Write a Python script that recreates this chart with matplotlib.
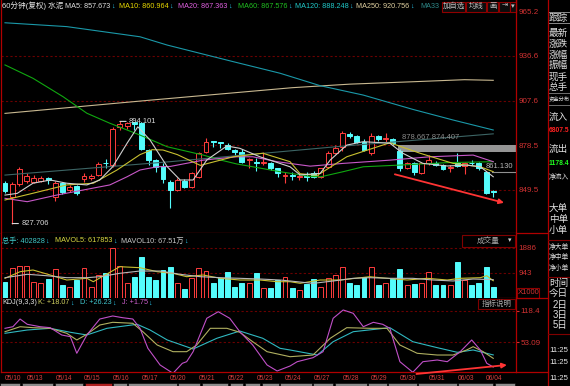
import numpy as np
import matplotlib
matplotlib.use('Agg')
import matplotlib.pyplot as plt
from matplotlib.patches import Rectangle
from matplotlib.lines import Line2D
from matplotlib.transforms import blended_transform_factory

plt.rcParams['font.family'] = ['Liberation Sans', 'Noto Sans CJK SC', 'DejaVu Sans']

# ---------------- data ----------------
dates = ['05/10', '05/13', '05/14', '05/15', '05/16', '05/17', '05/20', '05/21', '05/22',
         '05/23', '05/24', '05/27', '05/28', '05/29', '05/30', '05/31', '06/03', '06/04']
bars_per_day = [3] + [4] * 16 + [2]

opens = [854.0, 844.8, 853.4, 855.5, 854.9, 855.5, 857.1, 844.8, 854.3, 849.5,
         852.1, 856.7, 857.1, 859.3, 867.3, 865.7, 890.6, 891.2, 893.6, 892.8,
         875.2, 868.8, 865.1, 854.9, 849.5, 855.3, 851.6, 858.0, 874.4, 881.2,
         880.6, 878.7, 875.5, 874.4, 868.8, 868.0, 866.9, 867.3, 863.6, 858.6,
         859.3, 858.1, 858.6, 860.8, 858.1, 864.6, 873.3, 877.6, 885.6, 884.6,
         880.9, 873.3, 884.4, 882.6, 882.4, 875.0, 863.6, 866.9, 860.8, 866.9,
         867.3, 865.8, 863.8, 867.3, 865.1, 867.3, 866.9, 861.4, 848.6]
highs = [855.5, 855.0, 864.6, 860.3, 859.3, 858.6, 857.8, 855.5, 855.0, 853.0,
         852.8, 860.8, 860.0, 867.5, 869.5, 890.5, 894.101, 894.0, 893.9, 894.0,
         876.0, 869.5, 867.0, 856.0, 857.0, 856.5, 861.5, 874.5, 883.1, 881.5,
         881.0, 880.2, 876.0, 876.0, 870.5, 870.0, 874.0, 868.0, 864.0, 861.0,
         861.5, 860.5, 861.0, 861.8, 864.0, 875.0, 879.0, 888.0, 887.0, 885.2,
         882.5, 886.3, 885.0, 886.3, 883.5, 876.0, 868.0, 867.5, 868.0, 872.0,
         868.5, 866.5, 865.5, 873.3, 867.5, 869.0, 867.5, 862.0, 849.5]
lows = [847.5, 827.706, 852.0, 854.0, 854.0, 855.0, 853.5, 842.5, 847.0, 848.5,
        846.5, 854.5, 856.0, 858.5, 864.0, 864.6, 888.5, 889.0, 888.5, 875.5,
        865.5, 861.5, 854.0, 837.8, 849.0, 851.0, 851.0, 857.5, 873.5, 877.5,
        876.8, 875.5, 872.0, 867.0, 864.0, 862.0, 866.0, 862.5, 858.0, 853.9,
        856.0, 856.0, 855.5, 857.5, 857.5, 864.0, 873.0, 875.0, 883.0, 880.0,
        874.8, 872.0, 881.5, 880.5, 878.5, 862.0, 863.0, 859.5, 860.0, 866.0,
        865.0, 862.5, 861.0, 864.5, 860.0, 866.0, 862.5, 847.0, 845.1]
closes = [848.6, 853.4, 863.0, 858.6, 857.1, 857.1, 856.0, 853.9, 848.4, 851.6,
          847.3, 858.3, 858.6, 866.4, 866.9, 888.9, 892.4, 892.8, 892.6, 875.9,
          868.8, 864.6, 856.4, 849.5, 856.0, 851.6, 860.3, 873.7, 880.9, 880.6,
          880.0, 875.9, 874.4, 867.9, 869.5, 867.3, 867.9, 863.6, 860.3, 859.3,
          858.8, 858.8, 858.1, 858.1, 863.6, 873.3, 876.6, 886.3, 884.8, 880.9,
          875.3, 884.6, 882.4, 883.1, 879.8, 863.6, 866.9, 861.4, 867.0, 868.9,
          865.8, 863.0, 864.2, 865.1, 866.9, 866.9, 863.6, 847.7, 848.2]
volumes = [580, 1108, 1206, 1206, 580, 543, 705, 1082, 479, 415,
           667, 1108, 415, 844, 920, 1885, 1206, 543, 792, 1546,
           792, 667, 1044, 1157, 543, 328, 730, 1108, 1006, 543,
           730, 969, 415, 543, 543, 920, 377, 377, 667, 780,
           354, 290, 505, 694, 415, 730, 856, 1146, 543, 479,
           792, 1169, 467, 543, 705, 1071, 479, 505, 543, 980,
           479, 479, 479, 1357, 667, 479, 543, 1169, 415]

ma5_idx = [0, 1.7, 3.9, 6.3, 8.6, 11.4, 13.2, 15, 17, 18.5, 20.2, 22.6, 24.4, 26.2, 28.1,
           30.9, 32.7, 35.5, 39.7, 41.1, 43.9, 45.3, 47.6, 49.9, 53.6, 55.4, 58.2, 61.6, 64.3, 66.2, 68]
ma5_val = [846.2, 847.3, 853.9, 856.0, 853.9, 852.8, 856.0, 864.6, 879.9, 890.6, 882.0, 864.6, 856.0, 856.0, 869.0,
           878.1, 876.6, 871.1, 864.6, 859.3, 860.3, 869.0, 878.7, 880.9, 879.9, 873.4, 866.8, 865.1, 865.7, 864.6, 858.1]
ma10_idx = [0, 3.9, 8.6, 12.3, 15.6, 18.8, 20.5, 22, 24, 27.2, 31.8, 35.9, 39.7, 41.1, 43.5, 47.6, 53.6, 57.8, 62.4, 66.2, 68]
ma10_val = [843.0, 847.4, 852.8, 853.9, 862.5, 872.5, 875.7, 875.5, 872.5, 865.5, 871.1, 873.4, 867.9, 860.1, 859.0,
            871.1, 880.2, 873.4, 866.8, 864.6, 861.4]
ma20_idx = [0, 3.1, 7.2, 10.9, 14.6, 17, 18.8, 21.2, 23, 27.6, 32.3, 34.5, 37.9, 42.5, 47.1, 53.6, 59.2, 65.2, 68]
ma20_val = [844.1, 841.9, 846.2, 849.5, 852.8, 858.1, 862.5, 864.6, 864.8, 868.9, 871.1, 871.1, 867.9, 865.0,
            866.8, 868.9, 871.1, 872.2, 867.9]
ma60_idx = [0, 3.9, 8.1, 11.4, 14.6, 18.8, 22.6, 27.6, 30.0, 32.3, 34.5, 38.3, 42.5, 44, 47.1, 49.9, 55.0, 61.6, 68]
ma60_val = [930.8, 922.1, 910.1, 899.4, 892.9, 885.2, 877.6, 872.2, 869.0, 866.4, 864.6, 861.4, 858.3, 858.1,
            861.4, 864.6, 865.7, 867.3, 867.9]
ma120_idx = [0, 8.6, 18.8, 22.6, 31.8, 38.3, 43.9, 49.9, 56.8, 62.4, 68]
ma120_val = [958.2, 955.7, 949.1, 943.7, 932.9, 925.4, 917.3, 911.2, 901.9, 895.0, 888.5]
ma250_idx = [0, 20, 40, 48, 57, 64, 68]
ma250_val = [899.3, 907.8, 916.0, 918.3, 919.9, 921.2, 920.8]
ma331_idx = [0, 23, 47, 68]
ma331_val = [859.2, 867.9, 878.0, 886.0]

mav5_idx = [0, 2.1, 3.9, 6.3, 8.6, 11.4, 12.3, 14.6, 16.0, 18.8, 21.2, 23.4, 25.3, 27.6, 30.0, 32.7,
            35.5, 37.9, 39.7, 41.1, 43.9, 46.7, 50.8, 53.2, 56.0, 58.8, 61.6, 63.4, 66.2, 67.1, 68.0]
mav5_val = [731, 980, 1044, 856, 667, 731, 603, 957, 1169, 1131, 980, 920, 792, 856, 731, 667,
            667, 603, 603, 543, 667, 667, 792, 731, 667, 731, 667, 731, 754, 829, 640]
mav10_idx = [0, 3.1, 5.8, 8.6, 11.4, 13.2, 16.0, 18.8, 21.6, 24.4, 27.2, 30.0, 32.7, 35.5, 38.3, 39.7,
             42.9, 45.7, 48.5, 50.8, 53.6, 56.8, 59.6, 62.4, 65.2, 68.0]
mav10_val = [754, 882, 829, 754, 754, 792, 920, 1006, 1006, 882, 792, 754, 731, 705, 667, 630,
             540, 630, 731, 754, 731, 731, 667, 630, 705, 680]

k_idx = [0, 2.1, 3.9, 6.3, 8.6, 10.0, 11.4, 13.2, 15.0, 17.8, 19.2, 21.2, 23.4, 25.3, 26.7, 28.6, 30.9,
         32.7, 34.5, 36.5, 39.7, 42.9, 45.3, 47.6, 50.8, 53.2, 55.0, 57.4, 60.2, 62.4, 64.3, 65.2, 66.6, 68.0]
k_val = [75.0, 85.3, 83.3, 82.0, 71.7, 57.9, 69.6, 88.8, 94.4, 92.4, 75.0, 47.5, 33.7, 33.7, 47.5, 82.0, 82.0,
         73.8, 54.3, 33.7, 23.3, 26.8, 61.4, 83.3, 82.0, 82.0, 47.5, 30.4, 26.8, 26.8, 37.2, 44.0, 33.7, 20.0]
d_idx = [0, 3.1, 6.3, 9.1, 11.4, 14.2, 18.4, 20.2, 22.6, 26.2, 29.5, 32.7, 35.9, 38.3, 39.7, 43.5,
         45.7, 48.5, 53.6, 56.8, 60.2, 63.0, 65.2, 68.0]
d_val = [71.7, 78.5, 82.0, 73.8, 68.2, 82.0, 90.3, 78.5, 57.9, 39.2, 61.4, 76.4, 61.4, 40.7, 37.2, 26.8,
         54.3, 75.0, 83.3, 54.3, 42.0, 32.4, 37.2, 27.0]
j_idx = [0, 1.1, 2.1, 3.1, 4.9, 6.3, 7.9, 9.1, 10.0, 11.4, 13.2, 15.0, 16.4, 17.8, 18.8, 19.9, 21.6, 23.4,
         24.7, 25.3, 26.2, 28.1, 29.7, 31.3, 32.7, 34.5, 36.5, 37.9, 39.7, 40.7, 42.9, 44.3, 45.7, 47.1,
         48.5, 49.9, 51.3, 52.6, 53.6, 55.0, 56.8, 58.2, 60.2, 61.6, 63.4, 65.0, 66.2, 67.1, 68.0]
j_val = [82.0, 85.3, 101.2, 90.3, 85.3, 83.3, 68.2, 64.7, 30.4, 68.2, 101.2, 107.5, 103.9, 101.2, 82.0, 40.7,
         6.2, -11.0, 9.7, 13.0, 33.7, 102.7, 116.3, 102.7, 75.0, 47.5, 6.2, -6.2, 4.1, 13.0, 21.3, 33.7, 102.7,
         119.9, 113.0, 85.3, 94.4, 90.3, 82.0, 13.0, -8.9, 13.0, 16.5, 13.0, 33.7, 57.9, 37.2, 9.7, 2.0]

price_ticks = [965.2, 936.6, 907.6, 878.5, 849.5]
vol_ticks = [1886, 943]
kdj_ticks = [118.4, 53.09]
band_lo, band_hi = 874.407, 878.667
ref_line = 861.130

# ---------------- layout ----------------
W, H = 570, 386
fig = plt.figure(figsize=(W / 100, H / 100), dpi=100, facecolor='black')
renderer = fig.canvas.get_renderer()

RED = '#ff3c3c'
CYAN = '#54fcfc'
BORDER = '#b00000'
GRID = '#6a0000'
AXLAB = '#d23232'
ARROW_C = '#28c8f0'


def fx(x):
    return x / W


def fy(y):
    return 1 - y / H


def T(x, y, s, c, fs=5.2, ha='left', va='center', **kw):
    return fig.text(fx(x), fy(y), s, color=c, fontsize=fs, ha=ha, va=va, **kw)


def TA(x, y, s, c, fs=5.2, arrow='↓', ac=ARROW_C):
    t = T(x, y, s, c, fs)
    bb = t.get_window_extent(renderer=renderer)
    T(bb.x1 + 0.5, y, arrow, ac, fs)


def box(x0, y0, x1, y1, ec='#900000', fc='black', lw=0.8):
    fig.add_artist(Rectangle((fx(x0), fy(y1)), (x1 - x0) / W, (y1 - y0) / H,
                             transform=fig.transFigure, ec=ec, fc=fc, lw=lw))


def hline(x0, x1, y, c=BORDER, lw=0.9):
    fig.add_artist(Line2D([fx(x0), fx(x1)], [fy(y), fy(y)], transform=fig.transFigure, color=c, lw=lw))


def vline(x, y0, y1, c=BORDER, lw=0.9):
    fig.add_artist(Line2D([fx(x), fx(x)], [fy(y0), fy(y1)], transform=fig.transFigure, color=c, lw=lw))


def make_ax(x0, y0, x1, y1):
    ax = fig.add_axes([fx(x0), fy(y1), (x1 - x0) / W, (y1 - y0) / H])
    ax.set_facecolor('black')
    for s in ['left', 'right', 'bottom']:
        ax.spines[s].set_color(BORDER)
        ax.spines[s].set_linewidth(0.9)
    ax.spines['top'].set_visible(False)
    ax.set_xticks([])
    ax.yaxis.tick_right()
    return ax


BAR_PX, X0_PX = 7.18, 5.0
XLIM = ((1 - X0_PX) / BAR_PX, (516 - X0_PX) / BAR_PX)

ax_p = make_ax(1, 0, 516, 233)
ax_v = make_ax(1, 233, 516, 298)
ax_k = make_ax(1, 298, 516, 372)
for ax in (ax_p, ax_v, ax_k):
    ax.set_xlim(*XLIM)

# price scale: 965.2 at y=12, 0.65 per px
ax_p.set_ylim(965.2 - (233 - 12) * 0.65, 965.2 + 12 * 0.65)
ax_v.set_ylim(-(298 - 297.7) * 37.7, (297.7 - 233) * 37.7)
ax_k.set_ylim(53.09 + (342.3 - 372) * 2.067, 53.09 + (342.3 - 298) * 2.067)

# ---------------- price panel ----------------
o = np.array(opens); c = np.array(closes); h = np.array(highs); l = np.array(lows)
idx = np.arange(len(o))
up = c >= o
edge = [RED if u else CYAN for u in up]
face = ['black' if u else CYAN for u in up]
for p in price_ticks[1:]:
    ax_p.axhline(p, color=GRID, lw=0.8, ls=(0, (2, 2)), zorder=0)
ax_p.axhspan(band_lo, band_hi, xmin=(398 - 1) / 515, xmax=1, color='#959595', zorder=1, lw=0)
ax_p.vlines(idx, l, h, colors=edge, lw=0.8, zorder=2)
ax_p.bar(idx, np.maximum(np.abs(c - o), 0.35), bottom=np.minimum(o, c), width=0.68,
         color=face, edgecolor=edge, linewidth=0.7, zorder=3)

ma_specs = [(ma331_idx, ma331_val, '#3c6464'), (ma250_idx, ma250_val, '#c8b890'),
            (ma120_idx, ma120_val, '#1a98a8'), (ma60_idx, ma60_val, '#10a810'),
            (ma20_idx, ma20_val, '#c858c8'), (ma10_idx, ma10_val, '#c8c030'),
            (ma5_idx, ma5_val, '#d0d0d0')]
for xi, yv, col in ma_specs:
    ax_p.plot(xi, yv, color=col, lw=0.8, zorder=4)

hi_i = int(np.argmax(h)); lo_i = int(np.argmin(l))
for i, v in ((hi_i, h[hi_i]), (lo_i, l[lo_i])):
    ax_p.annotate(f'{v:.3f}', xy=(i, v), xytext=(9, 0), textcoords='offset pixels',
                  color='#d8d8d8', fontsize=5.5, va='center', ha='left', zorder=6,
                  arrowprops=dict(arrowstyle='-', color='#d8d8d8', lw=0.8, shrinkA=0, shrinkB=0))

ax_p.axhline(ref_line, xmin=(492 - 1) / 515, xmax=1, color='#909090', lw=0.8, zorder=5)
blend = blended_transform_factory(ax_p.transAxes, ax_p.transData)
ax_p.annotate(f'{ref_line:.3f}', xy=(1.0, ref_line), xycoords=blend, xytext=(-3, 2),
              textcoords='offset pixels', ha='right', va='bottom', color='#b8b8b8', fontsize=5.5, zorder=6)
ax_p.annotate(f'{band_hi:.3f} {band_lo:.3f}', xy=(55.3, band_hi), xytext=(0, 4),
              textcoords='offset pixels', ha='left', va='bottom', color='#8a8a8a', fontsize=5.5, zorder=6)

ax_p.annotate('', xy=(69.5, 841.2), xytext=(54.3, 859.7), annotation_clip=False,
              arrowprops=dict(arrowstyle='-|>', color='#ff3434', lw=1.3, mutation_scale=7,
                              shrinkA=0, shrinkB=0), zorder=7)

ax_p.set_yticks(price_ticks)
ax_p.set_yticklabels([f'{p:.1f}' for p in price_ticks])
ax_p.tick_params(axis='y', length=0, pad=2, labelsize=5.8, labelcolor=AXLAB)

# ---------------- volume panel ----------------
for vt in vol_ticks:
    ax_v.axhline(vt, color=GRID, lw=0.8, ls=(0, (2, 2)), zorder=0)
ax_v.bar(idx, volumes, width=0.68, color=face, edgecolor=edge, linewidth=0.7, zorder=3)
ax_v.plot(mav5_idx, mav5_val, color='#c8c030', lw=0.8, zorder=4)
ax_v.plot(mav10_idx, mav10_val, color='#b8b8b8', lw=0.8, zorder=4)
ax_v.set_yticks(vol_ticks)
ax_v.set_yticklabels([str(v) for v in vol_ticks])
ax_v.tick_params(axis='y', length=0, pad=2, labelsize=5.8, labelcolor=AXLAB)

# ---------------- KDJ panel ----------------
for kt in kdj_ticks:
    ax_k.axhline(kt, color=GRID, lw=0.8, ls=(0, (2, 2)), zorder=0)
ax_k.plot(d_idx, d_val, color='#30b8c0', lw=0.8, zorder=3)
ax_k.plot(k_idx, k_val, color='#b0b060', lw=0.8, zorder=4)
ax_k.plot(j_idx, j_val, color='#c050c8', lw=0.8, zorder=5)
ax_k.annotate('', xy=(69.9, 6.2), xytext=(57.3, -12.4), annotation_clip=False,
              arrowprops=dict(arrowstyle='-|>', color='#ff3434', lw=1.3, mutation_scale=7,
                              shrinkA=0, shrinkB=0), zorder=7)
ax_k.set_yticks(kdj_ticks)
ax_k.set_yticklabels(['118.4', '53.09'])
ax_k.tick_params(axis='y', length=2, width=0.8, direction='out', color=AXLAB, pad=1,
                 labelsize=5.8, labelcolor=AXLAB)
day_starts = np.cumsum([0] + bars_per_day[:-1])
ax_k.set_xticks(day_starts)
ax_k.set_xticklabels(dates, ha='left')
ax_k.tick_params(axis='x', length=0, pad=2.5, labelsize=4.8, labelcolor='#d84040')

# ---------------- header texts ----------------
T(2, 6, '60分钟(复权) 水泥', '#e6e6e6', 5.5)
TA(65, 6, 'MA5: 857.673', '#e0e0e0')
TA(119, 6, 'MA10: 860.964', '#e8d800')
TA(178, 6, 'MA20: 867.363', '#e060e0')
TA(238, 6, 'MA60: 867.576', '#20c020')
TA(295, 6, 'MA120: 888.248', '#20c8c8')
TA(356, 6, 'MA250: 920.756', '#e0d0a0')
T(420, 6, 'MA33', '#2e8888', 5.2)

for (x0, x1, s) in [(442, 465, '加自选'), (466, 486, '均线'), (487, 498, '画'),
                    (499, 510, '⇥'), (510, 516, '▾')]:
    box(x0, 1.5, x1, 11.5, ec='#900000', fc='#0c0c0c', lw=0.8)
    T((x0 + x1) / 2, 6.5, s, '#c0c0c0', 5.3, ha='center')

TA(2, 241, '总手: 402828', '#40c8c8')
TA(55, 241, 'MAVOL5: 617853', '#d8d840')
TA(121, 241, 'MAVOL10: 67.51万', '#c8c8c8')
box(462, 234.5, 515, 247, ec='#800000')
T(477, 241, '成交量', '#a8a8a8', 5.5)
T(508, 241, '▾', '#d0d0d0', 5.0)

T(2, 303, 'KDJ(9,3,3)', '#e0e0e0')
TA(38, 303, 'K: +18.07', '#d0d060')
TA(80, 303, 'D: +26.23', '#40c8d0')
TA(122, 303, 'J: +1.75', '#d060d0')
box(478, 298.5, 515, 309, ec='#800000')
T(482, 304, '指标说明', '#a8a8a8', 5.4)

box(516.5, 288, 539, 298, ec='#900000')
T(518, 293, 'X1000', AXLAB, 5.5)

# separators extending into the label column
for yy in (233, 298, 372):
    hline(516, 548, yy)
vline(548, 0, 386)
vline(516, 0, 12)

# ---------------- right info panel ----------------
box(548, 12, 572, 23, ec='#a0a0a0', fc='black', lw=0.6)
right_items = [('跟踪', 17.5), ('最新', 33), ('涨跌', 44), ('涨幅', 55), ('振幅', 65), ('现手', 77),
               ('总手', 87), ('流入', 117), ('流出', 149), ('大单', 208),
               ('中单', 219), ('小单', 230), ('时间', 283), ('今日', 293)]
for s, yy in right_items:
    T(549, yy, s, '#e0e0e0', 6.9)
for s, yy in [('净流入', 178), ('净大单', 247), ('净中单', 257), ('净小单', 268)]:
    T(548.8, yy, s, '#e0e0e0', 4.9)
for s, yy in [('2日', 305), ('3日', 315), ('5日', 325)]:
    T(553, yy, s, '#e0e0e0', 6.9)
box(548, 93, 572, 105, ec='#808080', fc='black', lw=0.6)
T(549, 99, '资金分布', '#e0e0e0', 3.8)
T(549, 130, '6807.5', '#ff2020', 4.9, fontweight='bold')
T(549, 164, '1178.4', '#20ff20', 4.9, fontweight='bold')
for yy in (240, 277, 334):
    hline(548, 570, yy, c='#800000', lw=0.8)
for yy in (350, 363, 379):
    T(549, yy, '11:25', '#e8e8e8', 5.6)

# ---------------- bottom tab strip ----------------
tabs = [(0, 20), (22, 53), (55, 83), (85, 112), (113, 127), (128, 177), (178, 200), (202, 228),
        (230, 243), (245, 260), (262, 279), (280, 312), (313, 333), (335, 367), (368, 387),
        (388, 417), (418, 457), (458, 493), (495, 515)]
for (x0, x1) in tabs:
    col = '#b02020' if x0 == 85 else '#8c8c8c'
    box(x0, 382.5, x1, 387, ec='black', fc=col, lw=0.4)

fig.savefig('out.png', dpi=100, facecolor='black')
